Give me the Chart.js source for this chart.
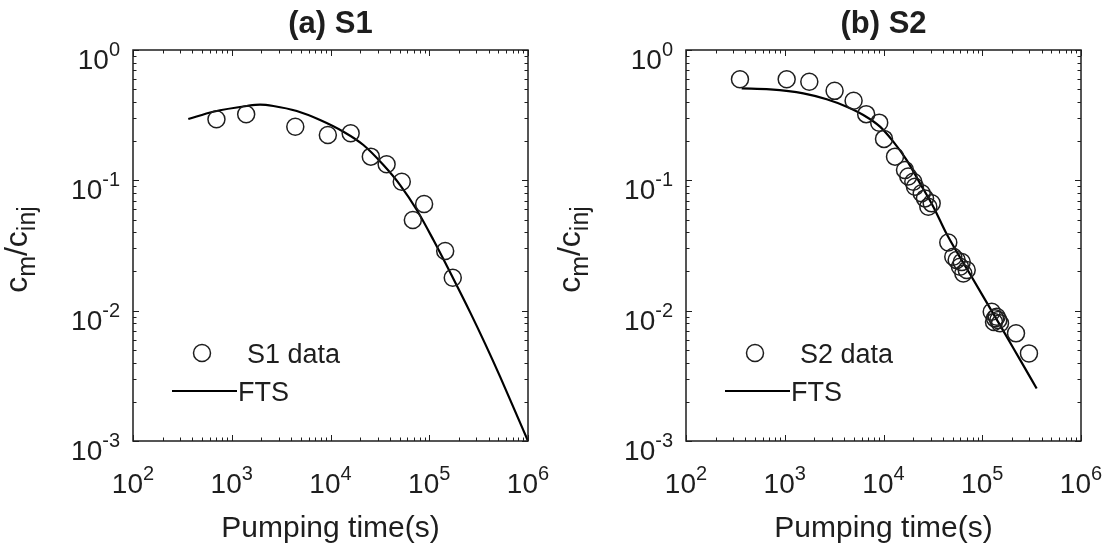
<!DOCTYPE html>
<html>
<head>
<meta charset="utf-8">
<title>Pumping time breakthrough</title>
<script src="https://cdn.jsdelivr.net/npm/chart.js@4.4.0/dist/chart.umd.min.js"></script>
<style>
  body { margin: 0; background: #fff; }
  #wrap { position: relative; width: 1115px; height: 550px; }
  .panel { position: absolute; top: 0; height: 550px; }
</style>
</head>
<body>
<div id="wrap">
  <div class="panel" style="left:0;width:557px"><canvas id="chartA" width="557" height="550"></canvas></div>
  <div class="panel" style="left:557px;width:558px"><canvas id="chartB" width="558" height="550"></canvas></div>
</div>
<script>
// S1 measured concentrations (c_m / c_inj) vs pumping time (s)
var s1Time = [700, 1400, 4400, 9400, 16000, 25600, 37000, 52700, 68200, 88700, 145000, 173000];
var s1Conc = [0.294, 0.321, 0.258, 0.223, 0.230, 0.152, 0.133, 0.0976, 0.0496, 0.0658, 0.0287, 0.0179];

// S1 FTS model curve
var s1FitTime = [363, 651, 1419, 1935, 2640, 4556, 7846, 13510, 21540, 34360, 50730, 74860, 110300, 173400, 259700, 368500, 522800, 724800, 1000000];
var s1FitConc = [0.2954, 0.3361, 0.372, 0.381, 0.372, 0.3402, 0.2903, 0.2360, 0.1866, 0.1310, 0.0920, 0.0592, 0.0348, 0.01788, 0.00970, 0.00556, 0.003105, 0.001757, 0.001];

// S2 measured concentrations
var s2Time = [352, 1046, 1773, 3197, 4980, 6680, 9050, 10120, 13080, 16510, 17830, 20040, 20840, 24370, 26320, 28430, 30760,
  45290, 50890, 55060, 59530, 62000, 64330, 69620, 124700, 131500, 134600, 140000, 145400, 151300, 219700, 297200];
var s2Conc = [0.596, 0.596, 0.571, 0.486, 0.408, 0.322, 0.277, 0.208, 0.152, 0.120, 0.107, 0.0976, 0.0893, 0.0795, 0.0727, 0.0627, 0.0666,
  0.0333, 0.0259, 0.0245, 0.0217, 0.0236, 0.0193, 0.0205, 0.00981, 0.00818, 0.00873, 0.00898, 0.00847, 0.0080, 0.0067, 0.0047];

// S2 FTS model curve
var s2FitTime = [366, 710, 1542, 2661, 4240, 6244, 9218, 12560, 17170, 23430, 31940, 43620, 75130, 151300, 241200, 355600];
var s2FitConc = [0.508, 0.499, 0.465, 0.4185, 0.367, 0.317, 0.258, 0.198, 0.143, 0.0948, 0.0627, 0.0387, 0.0191, 0.00775, 0.00421, 0.00253];

// axis decades
var xExps = [2, 3, 4, 5, 6];
var yExps = [0, -1, -2, -3];

var ink = '#1e1e1e';
var fontFamily = '"Liberation Sans", Arial, Helvetica, sans-serif';

function toPoints(xs, ys) {
  var pts = [];
  for (var i = 0; i < xs.length; i++) pts.push({ x: xs[i], y: ys[i] });
  return pts;
}

// "10" with a raised exponent
function drawPower(ctx, exp, x, y, align) {
  ctx.font = '28px ' + fontFamily;
  var w1 = ctx.measureText('10').width;
  ctx.font = '20px ' + fontFamily;
  var w2 = ctx.measureText(exp).width;
  var start = align === 'center' ? x - (w1 + w2) / 2 : x - (w1 + w2);
  ctx.textAlign = 'left';
  ctx.textBaseline = 'alphabetic';
  ctx.font = '28px ' + fontFamily;
  ctx.fillText('10', start, y);
  ctx.font = '20px ' + fontFamily;
  ctx.fillText(exp, start + w1, y - 13);
}

function logTicks(scale) {
  var out = [];
  var lo = Math.round(Math.log10(scale.min)), hi = Math.round(Math.log10(scale.max));
  for (var e = lo; e <= hi; e++) {
    for (var m = 1; m < 10; m++) {
      if (e === hi && m > 1) break;
      out.push({ v: m * Math.pow(10, e), major: m === 1 });
    }
  }
  return out;
}

var axesPlugin = {
  id: 'matlabAxes',
  afterDatasetsDraw: function(chart, args, opts) {
    var ctx = chart.ctx;
    var a = chart.chartArea;
    var xs = chart.scales.x, ys = chart.scales.y;
    ctx.save();
    ctx.strokeStyle = ink;
    ctx.fillStyle = ink;

    // box
    ctx.lineWidth = 1.5;
    ctx.strokeRect(a.left, a.top, a.right - a.left, a.bottom - a.top);

    // inward ticks on all four sides
    ctx.lineWidth = 1;
    ctx.beginPath();
    logTicks(xs).forEach(function(t) {
      var p = Math.round(xs.getPixelForValue(t.v)) + 0.5;
      var len = t.major ? 6 : 3.5;
      ctx.moveTo(p, a.bottom); ctx.lineTo(p, a.bottom - len);
      ctx.moveTo(p, a.top); ctx.lineTo(p, a.top + len);
    });
    logTicks(ys).forEach(function(t) {
      var p = Math.round(ys.getPixelForValue(t.v)) + 0.5;
      var len = t.major ? 6 : 3.5;
      ctx.moveTo(a.left, p); ctx.lineTo(a.left + len, p);
      ctx.moveTo(a.right, p); ctx.lineTo(a.right - len, p);
    });
    ctx.stroke();

    // tick labels
    xExps.forEach(function(e) {
      drawPower(ctx, String(e), xs.getPixelForValue(Math.pow(10, e)), a.bottom + 52, 'center');
    });
    yExps.forEach(function(e) {
      drawPower(ctx, String(e), a.left - 13, ys.getPixelForValue(Math.pow(10, e)) + 19, 'right');
    });

    var cx = (a.left + a.right) / 2;

    // title
    ctx.textAlign = 'center';
    ctx.font = 'bold 31px ' + fontFamily;
    ctx.fillText(opts.title, cx, 33);

    // x label
    ctx.font = '30px ' + fontFamily;
    ctx.fillText('Pumping time(s)', cx, 537);

    // y label c_m/c_inj, rotated
    var parts = [['c', false], ['m', true], ['/c', false], ['inj', true]];
    var total = 0;
    parts.forEach(function(p) {
      ctx.font = (p[1] ? '25px ' : '32px ') + fontFamily;
      total += ctx.measureText(p[0]).width;
    });
    ctx.save();
    ctx.translate(a.left - 106, (a.top + a.bottom) / 2 + 4);
    ctx.rotate(-Math.PI / 2);
    ctx.textAlign = 'left';
    var px = -total / 2;
    parts.forEach(function(p) {
      ctx.font = (p[1] ? '25px ' : '32px ') + fontFamily;
      ctx.fillText(p[0], px, p[1] ? 8 : 0);
      px += ctx.measureText(p[0]).width;
    });
    ctx.restore();

    // legend
    var data = chart.data.datasets[0], fit = chart.data.datasets[1];
    ctx.lineWidth = data.borderWidth;
    ctx.strokeStyle = data.borderColor;
    ctx.beginPath();
    ctx.arc(a.left + 69, 353, data.pointRadius, 0, Math.PI * 2);
    ctx.stroke();
    ctx.lineWidth = fit.borderWidth;
    ctx.strokeStyle = fit.borderColor;
    ctx.beginPath();
    ctx.moveTo(a.left + 39, 391);
    ctx.lineTo(a.left + 104, 391);
    ctx.stroke();
    ctx.font = '27px ' + fontFamily;
    ctx.textAlign = 'left';
    ctx.fillText(opts.dataLabel, a.left + 114, 362.5);
    ctx.fillText('FTS', a.left + 105, 400.5);

    ctx.restore();
  }
};

function makePanel(id, title, dataLabel, times, conc, fitTimes, fitConc, padLeft, padRight) {
  return new Chart(document.getElementById(id), {
    type: 'scatter',
    data: {
      datasets: [
        {
          label: dataLabel,
          data: toPoints(times, conc),
          showLine: false,
          pointStyle: 'circle',
          pointRadius: 8.5,
          borderWidth: 1.5,
          borderColor: ink,
          pointBackgroundColor: 'rgba(0,0,0,0)',
          pointBorderColor: ink
        },
        {
          label: 'FTS',
          data: toPoints(fitTimes, fitConc),
          showLine: true,
          pointRadius: 0,
          borderWidth: 2.2,
          borderColor: '#000',
          cubicInterpolationMode: 'monotone',
          fill: false
        }
      ]
    },
    options: {
      responsive: false,
      animation: false,
      devicePixelRatio: 1,
      layout: { padding: { left: padLeft, right: padRight, top: 50, bottom: 109 } },
      scales: {
        x: { type: 'logarithmic', min: 100, max: 1000000, display: false },
        y: { type: 'logarithmic', min: 0.001, max: 1, display: false }
      },
      plugins: {
        legend: { display: false },
        tooltip: { enabled: false },
        matlabAxes: { title: title, dataLabel: dataLabel }
      }
    },
    plugins: [axesPlugin]
  });
}

makePanel('chartA', '(a) S1', 'S1 data', s1Time, s1Conc, s1FitTime, s1FitConc, 133, 29);
makePanel('chartB', '(b) S2', 'S2 data', s2Time, s2Conc, s2FitTime, s2FitConc, 129, 34);
</script>
</body>
</html>
